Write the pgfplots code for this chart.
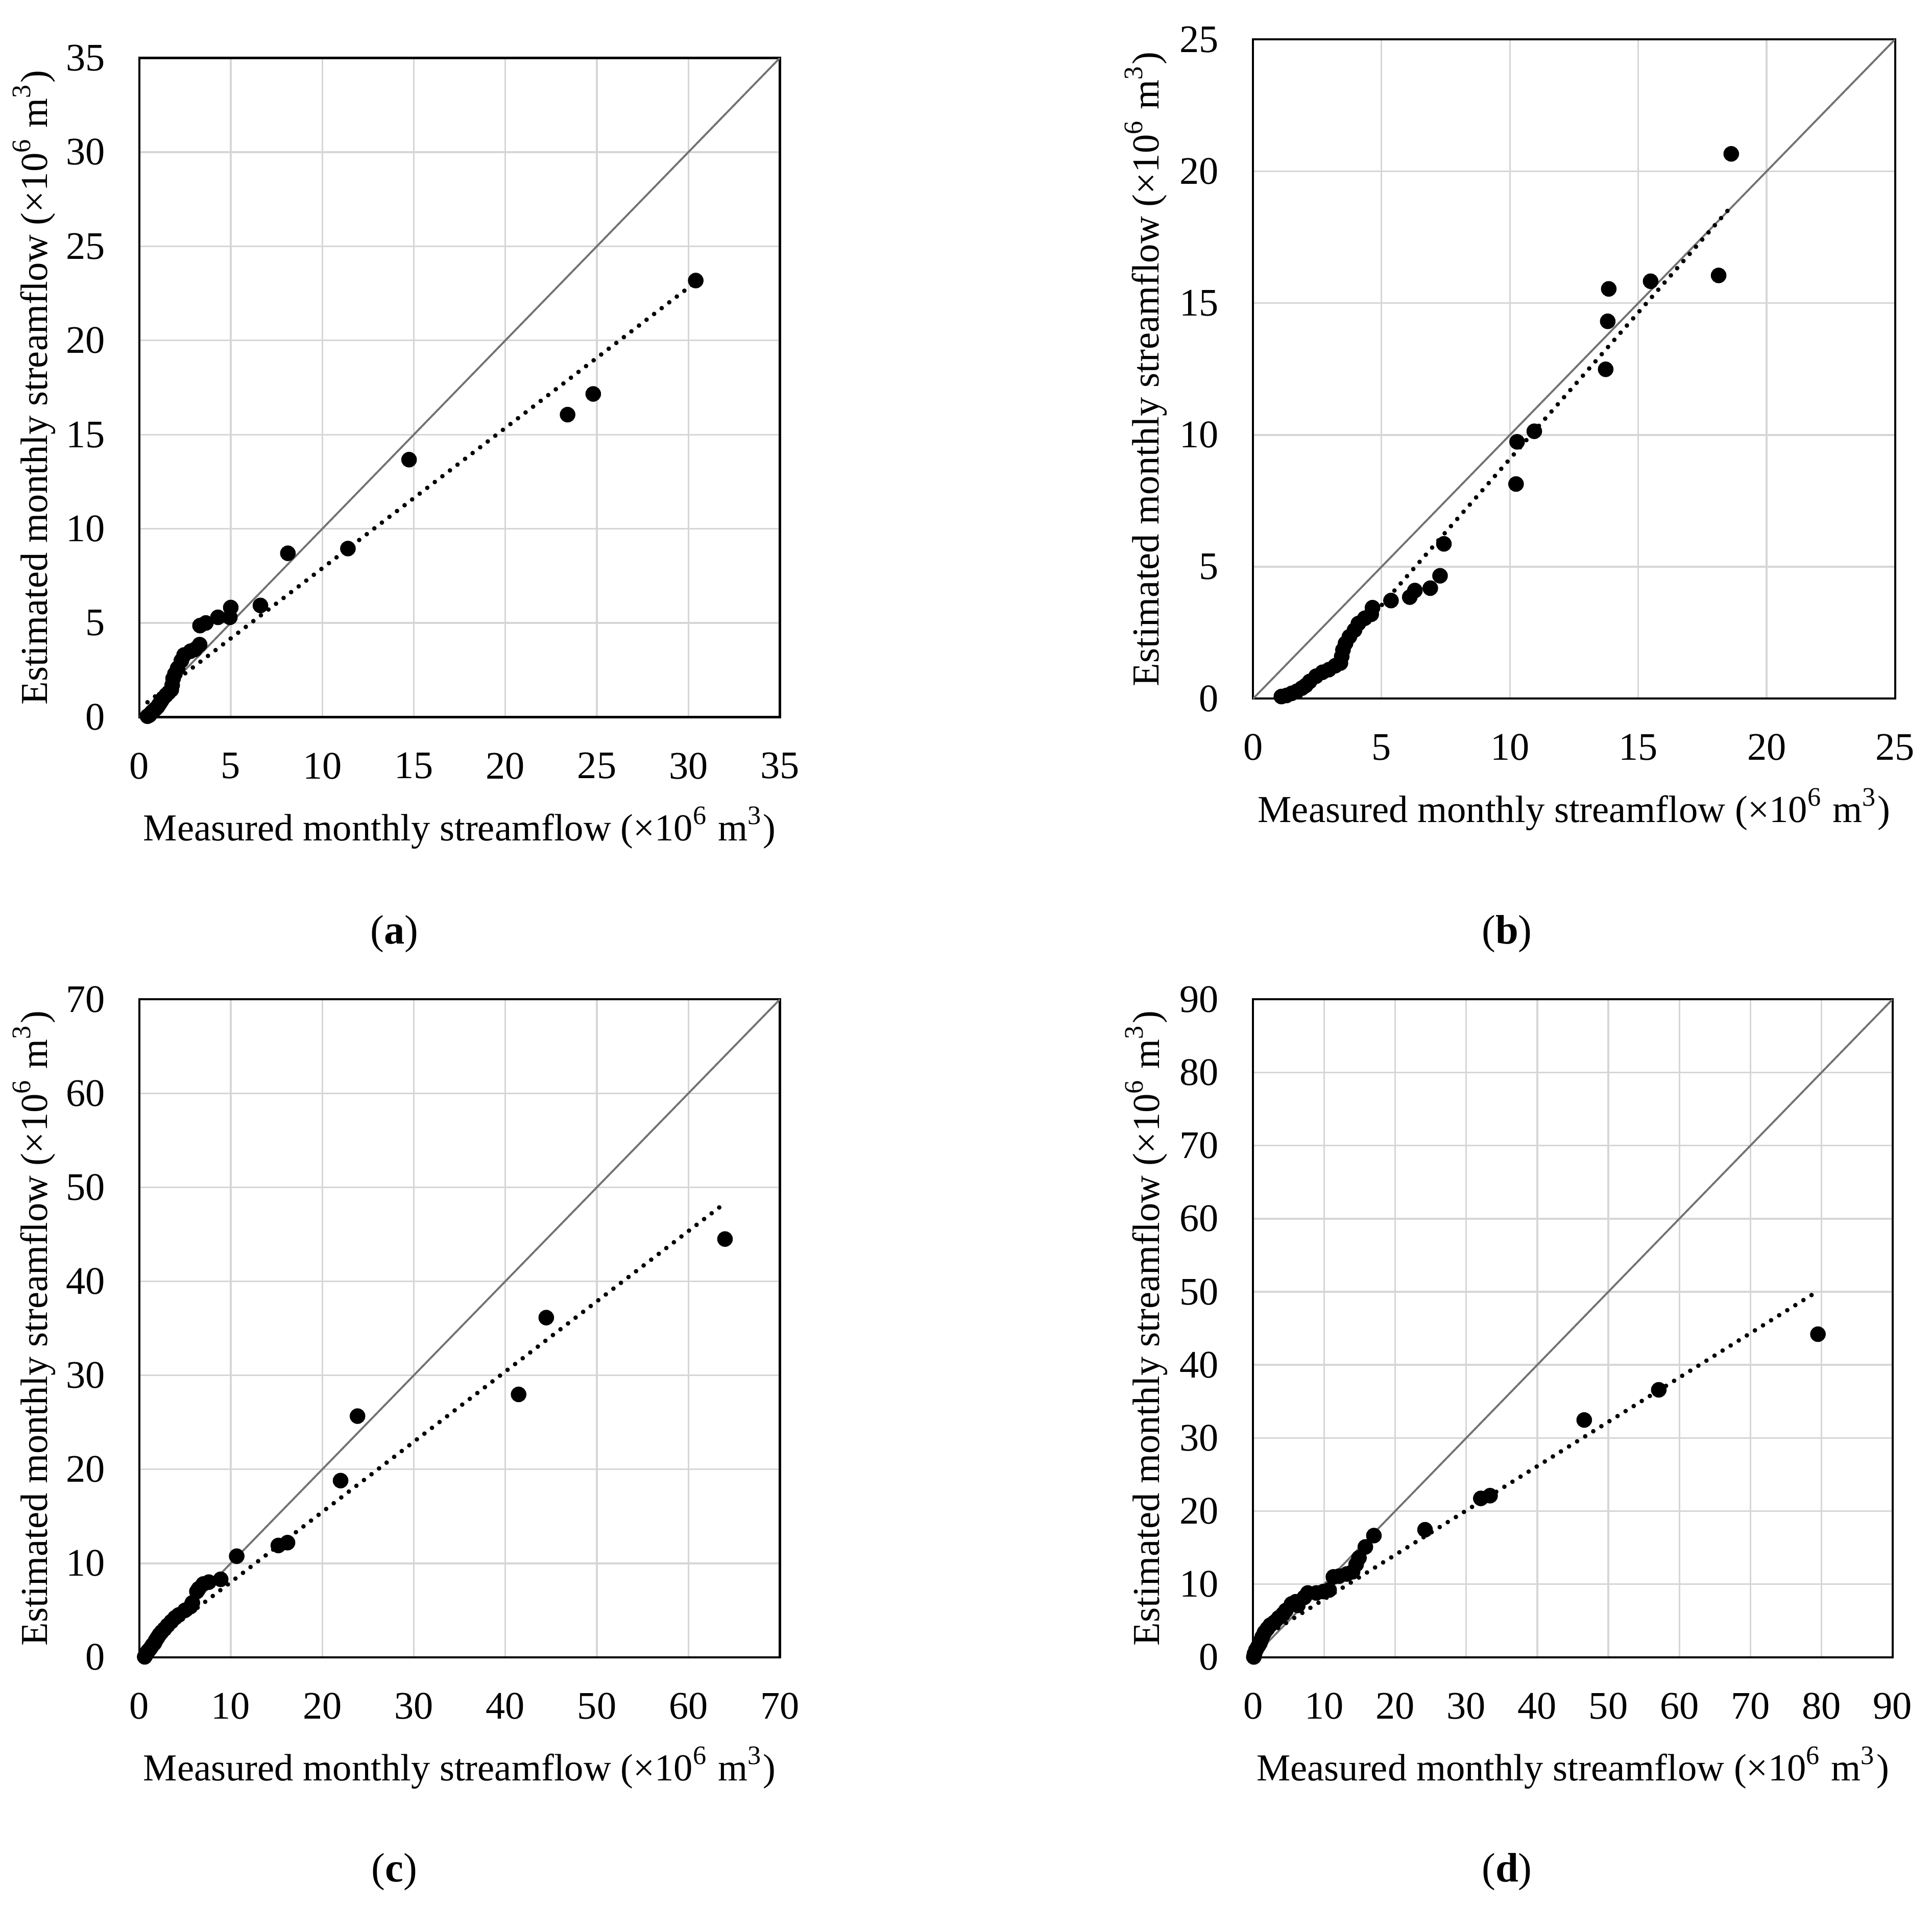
\documentclass[border=0pt]{standalone}
\usepackage{fontspec}
\setmainfont{Liberation Serif}
\usepackage{pgfplots}
\pgfplotsset{compat=1.18}

% shared look of the four panels
\pgfplotsset{
  flowpanel/.style={
    scale only axis,
    anchor=south west,
    xmin=0, ymin=0,
    grid=major,
    grid style={line width=0.4pt, color=black!16},
    axis line style={line width=0.5pt, black},
    major tick length=0pt,
    tick label style={font=\fontsize{9}{10}\selectfont},
    /pgf/number format/assume math mode=true,
    xticklabel style={yshift=-4.7pt},
    yticklabel style={xshift=-4.4pt},
    label style={font=\fontsize{8.8}{10}\selectfont},
    xlabel={Measured monthly streamflow (×10\textsuperscript{6} m\textsuperscript{3})},
    ylabel={Estimated monthly streamflow (×10\textsuperscript{6} m\textsuperscript{3})},
    xlabel style={at={(axis description cs:0.5,-0.168)}, anchor=center},
    ylabel style={at={(axis description cs:-0.164,0.5)}, anchor=center},
  },
  obs/.style={only marks, mark=*, mark size=1.6pt, black},
  oneone/.style={no markers, line width=0.45pt, black!55},
  trend/.style={no markers, line width=1.05pt, black, line cap=round,
    dash pattern=on 0pt off 2.2pt},
}

\begin{document}
\begin{tikzpicture}
\path[use as bounding box] (0,0) rectangle (15.68cm,15.46cm);

% (a)
\begin{axis}[flowpanel, at={(1.13cm,9.64cm)}, width=5.20cm, height=5.35cm,
  xmax=35, ymax=35, xtick={0,5,...,35}, ytick={0,5,...,35}]
\addplot[oneone] coordinates {(0,0) (35,35)};
\addplot[trend] coordinates {(0.45,0.79) (30.4,23.1)};
\addplot[obs] table {
x y
0.45 0.05
0.55 0.10
0.62 0.18
0.70 0.27
0.80 0.36
0.90 0.45
1.00 0.55
1.10 0.70
1.20 0.85
1.30 1.00
1.45 1.15
1.60 1.30
1.75 1.45
1.80 1.70
1.85 2.05
1.95 2.30
2.10 2.60
2.30 3.00
2.45 3.30
2.80 3.50
3.05 3.60
3.30 3.85
3.32 4.86
3.64 5.00
4.30 5.30
4.95 5.30
5.00 5.82
6.62 5.93
8.12 8.70
11.40 8.95
14.74 13.67
23.40 16.06
24.80 17.16
30.40 23.18
};
\end{axis}

% (b)
\begin{axis}[flowpanel, at={(10.17cm,9.79cm)}, width=5.21cm, height=5.35cm,
  xmax=25, ymax=25, xtick={0,5,...,25}, ytick={0,5,...,25},
  ylabel style={at={(axis description cs:-0.167,0.5)}}]
\addplot[oneone] coordinates {(0,0) (25,25)};
\addplot[trend] coordinates {(1.1,-0.79) (18.6,18.64)};
\addplot[obs] table {
x y
1.10 0.08
1.30 0.12
1.50 0.20
1.70 0.28
1.90 0.40
2.05 0.50
2.20 0.65
2.45 0.85
2.70 1.00
2.95 1.10
3.20 1.25
3.40 1.35
3.45 1.60
3.50 1.85
3.60 2.10
3.75 2.35
3.95 2.60
4.10 2.85
4.35 3.05
4.60 3.20
4.65 3.45
5.37 3.72
6.10 3.85
6.30 4.10
6.90 4.19
7.28 4.66
7.43 5.87
10.24 8.14
10.28 9.74
10.95 10.14
13.73 12.49
13.81 14.31
13.85 15.54
15.48 15.83
18.13 16.05
18.62 20.66
};
\end{axis}

% (c)
\begin{axis}[flowpanel, at={(1.13cm,2.01cm)}, width=5.20cm, height=5.34cm,
  xmax=70, ymax=70, xtick={0,10,...,70}, ytick={0,10,...,70}]
\addplot[oneone] coordinates {(0,0) (70,70)};
\addplot[trend] coordinates {(0.6,0.97) (64.0,48.33)};
\addplot[obs] table {
x y
0.60 0.05
0.75 0.30
0.90 0.60
1.05 0.75
1.25 1.00
1.45 1.30
1.65 1.50
1.80 1.80
2.00 2.10
2.20 2.40
2.45 2.70
2.75 3.00
3.10 3.40
3.50 3.80
3.90 4.20
4.30 4.50
5.00 5.00
5.60 5.40
5.80 5.80
6.30 7.00
6.50 7.30
7.00 7.80
7.60 8.00
8.90 8.30
10.65 10.76
15.20 11.90
16.20 12.20
22.00 18.80
23.85 25.66
41.45 27.97
44.47 36.14
64.00 44.50
};
\end{axis}

% (d)
\begin{axis}[flowpanel, at={(10.17cm,2.01cm)}, width=5.19cm, height=5.34cm,
  xmax=90, ymax=90, xtick={0,10,...,90}, ytick={0,10,...,90},
  ylabel style={at={(axis description cs:-0.167,0.5)}}]
\addplot[oneone] coordinates {(0,0) (90,90)};
\addplot[trend] coordinates {(0.1,1.94) (79.5,50.1)};
\addplot[obs] table {
x y
0.10 0.05
0.20 0.50
0.40 1.00
0.70 1.50
0.95 1.90
1.10 2.30
1.30 2.80
1.60 3.40
2.00 3.90
2.40 4.40
3.00 4.80
3.60 5.40
4.20 5.90
4.60 6.40
5.40 7.30
6.00 7.60
6.30 7.10
7.20 8.20
7.70 8.80
8.90 8.80
9.90 9.00
10.70 9.20
11.30 11.00
12.10 11.10
13.20 11.40
14.00 11.70
14.50 12.70
14.90 13.60
15.80 15.10
17.00 16.65
24.20 17.45
32.05 21.74
33.35 22.11
46.60 32.46
57.10 36.59
79.50 44.20
};
\end{axis}

% panel captions
\node[font=\fontsize{9.5}{11}\selectfont] at (3.20cm,7.88cm) {(\textbf{a})};
\node[font=\fontsize{9.5}{11}\selectfont] at (12.23cm,7.88cm) {(\textbf{b})};
\node[font=\fontsize{9.5}{11}\selectfont] at (3.20cm,0.27cm) {(\textbf{c})};
\node[font=\fontsize{9.5}{11}\selectfont] at (12.23cm,0.27cm) {(\textbf{d})};
\end{tikzpicture}
\end{document}
